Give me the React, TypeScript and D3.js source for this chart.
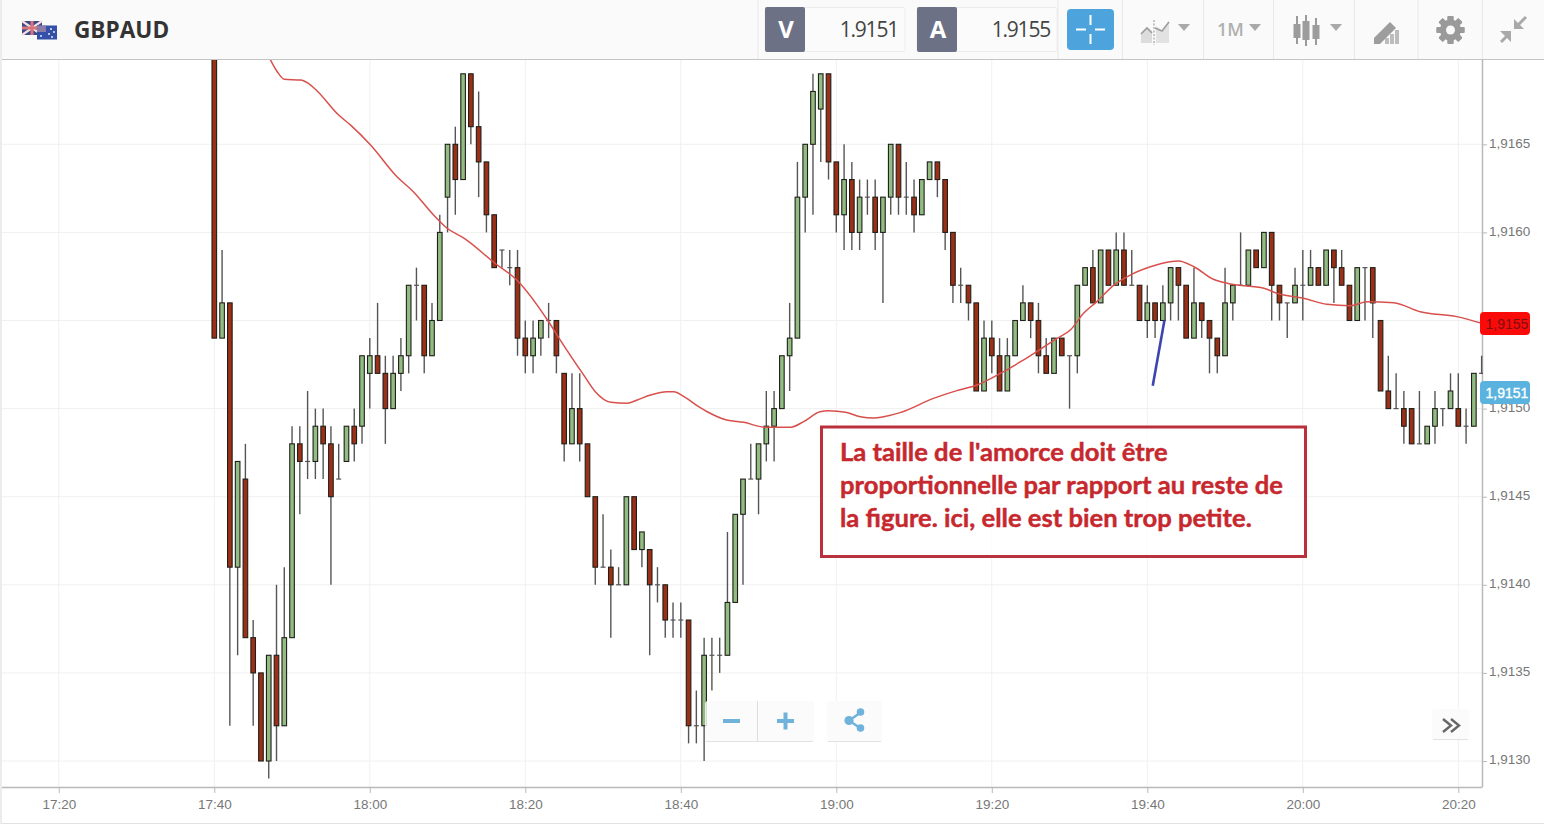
import { type FC, useEffect, useRef } from 'react';
import * as d3 from 'd3';

// prices are in 1/10000 above 1.91, so 65 means 1.9165
const opens = [
  78, 54, 56, 41, 46, 37, 35, 30, 36, 32, 37, 48, 47, 47, 49, 48, 46, 47, 49, 49,
  52, 53, 52, 50, 52, 53, 57, 57, 53, 55, 62, 65, 63, 69, 66, 64, 61, 59, 58, 58,
  54, 53, 54, 55, 55, 52, 48, 50, 48, 45, 41, 41, 40, 40, 45, 42, 42, 40, 40, 38,
  38, 38, 32, 32, 36, 36, 36, 39, 44, 46, 46, 48, 49, 50, 53, 54, 62, 65, 67, 69,
  64, 61, 63, 60, 62, 62, 60, 62, 65, 62, 62, 61, 63, 64, 63, 60, 57, 57, 56, 51,
  54, 53, 51, 53, 55, 56, 55, 53, 52, 54, 53, 53, 57, 58, 56, 59, 57, 59, 57, 57,
  55, 56, 55, 56, 58, 57, 54, 56, 55, 54, 53, 56, 57, 57, 59, 58, 60, 57, 56, 56,
  57, 57, 58, 57, 59, 58, 57, 55, 58, 58, 55, 51, 50, 50, 50, 48, 48, 49, 50, 50,
  50, 49, 49, 52,
];
const closes = [
  54, 56, 41, 47, 37, 35, 30, 36, 32, 37, 48, 47, 47, 49, 48, 45, 46, 49, 48, 53,
  53, 52, 50, 52, 53, 57, 57, 53, 55, 60, 65, 63, 69, 66, 64, 61, 58, 59, 58, 54,
  53, 54, 55, 55, 53, 48, 50, 48, 45, 41, 41, 40, 40, 45, 42, 43, 40, 40, 38, 38,
  38, 32, 32, 36, 36, 36, 39, 44, 46, 46, 48, 49, 50, 53, 54, 62, 65, 68, 69, 64,
  61, 63, 60, 62, 62, 60, 62, 65, 62, 62, 61, 63, 64, 63, 60, 57, 57, 56, 51, 54,
  53, 51, 53, 55, 56, 55, 53, 52, 54, 53, 53, 57, 58, 56, 59, 57, 59, 57, 57, 55,
  56, 55, 56, 58, 57, 54, 56, 55, 54, 53, 56, 57, 57, 59, 58, 60, 57, 56, 56, 57,
  57, 58, 57, 59, 58, 57, 55, 58, 58, 56, 51, 50, 50, 49, 48, 48, 49, 50, 50, 51,
  49, 49, 52, 52,
];
const highs = [
  78, 59, 56, 47, 48, 38, 35, 36, 40, 41, 49, 49, 51, 50, 50, 49, 48, 49, 50, 53,
  54, 56, 53, 53, 54, 57, 58, 57, 56, 61, 65, 66, 69, 69, 68, 64, 61, 59, 59, 59,
  55, 55, 55, 56, 55, 52, 52, 52, 48, 45, 44, 42, 41, 45, 45, 43, 42, 41, 40, 39,
  39, 38, 34, 37, 37, 37, 43, 44, 46, 48, 48, 51, 51, 53, 56, 64, 65, 69, 69, 69,
  64, 65, 64, 63, 63, 63, 62, 65, 65, 64, 63, 63, 64, 64, 63, 60, 58, 57, 56, 55,
  55, 54, 54, 55, 57, 56, 56, 54, 54, 54, 53, 57, 58, 59, 59, 59, 60, 60, 59, 57,
  57, 56, 57, 58, 58, 57, 58, 56, 55, 54, 58, 57, 60, 59, 59, 60, 60, 57, 56, 58,
  59, 59, 58, 59, 59, 59, 57, 58, 58, 58, 55, 53, 52, 51, 50, 51, 49, 51, 50, 52,
  52, 50, 52, 53,
];
const lows = [
  54, 54, 32, 36, 37, 32, 30, 29, 30, 32, 37, 44, 46, 46, 46, 40, 46, 47, 47, 48,
  50, 52, 48, 50, 51, 52, 55, 52, 53, 55, 60, 61, 63, 65, 62, 60, 58, 58, 57, 53,
  52, 52, 53, 54, 52, 47, 48, 47, 45, 40, 41, 37, 40, 40, 42, 41, 36, 39, 37, 37,
  37, 31, 31, 30, 34, 35, 36, 39, 40, 46, 44, 47, 47, 50, 51, 54, 60, 61, 64, 63,
  60, 59, 59, 59, 61, 59, 56, 61, 61, 61, 60, 61, 63, 62, 59, 56, 56, 55, 51, 51,
  52, 51, 51, 53, 55, 54, 52, 52, 52, 53, 50, 52, 57, 56, 56, 57, 57, 57, 57, 55,
  54, 54, 55, 55, 55, 54, 54, 54, 52, 52, 53, 55, 57, 57, 58, 58, 55, 55, 54, 56,
  55, 57, 57, 57, 56, 57, 55, 55, 55, 54, 51, 50, 50, 48, 48, 48, 48, 48, 49, 50,
  49, 48, 49, 52,
];

// moving average: minutes after 17:40 and level
const maMinutes = [
  6.6, 8.1, 9, 11.1, 12.1, 13.2, 16, 17.5, 20.1, 23.5, 25.6, 28.2, 29.9, 32.1, 36.1, 38.9, 43, 44.5, 47.5, 49,
  51, 53.1, 54.4, 56.1, 58.2, 59.1, 60.4, 62.5, 63.4, 65.9, 68.1, 70.9, 74.1, 75.8, 77.9, 79, 81.2, 83.1, 84.8, 86.1,
  88.2, 92.5, 95.5, 98.1, 101.1, 103.7, 108.4, 110.1, 111.8, 113.5, 115.7, 117.8, 120.4, 122.9, 124, 126, 128.5, 130.7, 135, 136.7,
  140.1, 143.1, 146.1, 148.3, 151.7, 155.1, 159.8, 163,
];
const maValues = [
  70.35, 69.12, 68.69, 68.65, 68.46, 68.04, 66.66, 66.1, 64.96, 63.16, 62.31, 60.99, 60.25, 59.67, 58.25, 57.3, 54.93, 53.89, 51.91, 50.96,
  50.36, 50.3, 50.49, 50.77, 50.96, 50.96, 50.68, 50.05, 49.82, 49.35, 49.22, 48.94, 48.94, 49.26, 49.82, 49.88, 49.79, 49.54, 49.47, 49.54,
  49.77, 50.58, 51.02, 51.34, 52, 52.66, 53.99, 54.46, 55.41, 56.07, 57.01, 57.58, 58.05, 58.34, 58.38, 58.05, 57.34, 57.07, 56.83, 56.54,
  56.26, 55.92, 55.84, 56.07, 56.01, 55.5, 55.22, 54.84,
];

// the blue hand drawn stroke
const strokeMinutes = [120.7, 122.2];
const strokeValues = [51.3, 55];

const priceTicks = [30, 35, 40, 45, 50, 55, 60, 65];
const timeTicks = [-20, 0, 20, 40, 60, 80, 100, 120, 140, 160];
const noteLines = [
  "La taille de l'amorce doit être",
  'proportionnelle par rapport au reste de',
  'la figure. ici, elle est bien trop petite.',
];
const symbol = 'GBPAUD';
const bid = '1.9151';
const ask = '1.9155';
const bidLabel = '1,9151';
const askLabel = '1,9155';

const width = 1544;
const height = 824;
const axisX = 1482;
const axisY = 787;
const gridColor = '#f0f0f0';
const axisColor = '#b9b9b9';
const labelColor = '#777777';
const upColor = '#92bc82';
const downColor = '#9c3017';
const wickColor = '#555555';
const iconColor = '#a9a9a9';
const sansFont = '"Open Sans", sans-serif';
const axisFont = '"Liberation Sans", Arial, sans-serif';

const base = new Date(2018, 0, 8, 17, 40).getTime();
const toDate = (m: number) => new Date(base + m * 60000);
const priceText = (d: number) => (1.91 + d / 10000).toFixed(4).replace('.', ',');

const App: FC = () => {
  const ref = useRef<SVGSVGElement>(null);

  useEffect(() => {
    const { current: dom } = ref;
    if (!dom) {
      return;
    }
    const svg = d3.select(dom);
    svg.selectAll('*').remove();

    const x = d3.scaleTime().domain([toDate(0), toDate(160)]).range([214.3, 1458.3]);
    const y = d3.scaleLinear().domain([30, 65]).range([761, 144.3]);
    const cx = (i: number) => x(toDate(i));

    svg.append('rect').attr('width', width).attr('height', height).attr('fill', '#fff');
    svg
      .append('defs')
      .append('clipPath')
      .attr('id', 'plot')
      .append('rect')
      .attr('x', 0)
      .attr('y', 60)
      .attr('width', axisX + 1)
      .attr('height', axisY - 60);

    // grid
    const grid = svg.append('g').attr('stroke', gridColor).attr('stroke-width', 1);
    grid
      .selectAll('line.h')
      .data(priceTicks)
      .join('line')
      .attr('class', 'h')
      .attr('x1', 0)
      .attr('x2', axisX)
      .attr('y1', (d) => y(d))
      .attr('y2', (d) => y(d));
    grid
      .selectAll('line.v')
      .data(timeTicks)
      .join('line')
      .attr('class', 'v')
      .attr('x1', (d) => cx(d))
      .attr('x2', (d) => cx(d))
      .attr('y1', 60)
      .attr('y2', axisY);

    // axes
    const bottom = svg
      .append('g')
      .attr('transform', `translate(0,${axisY})`)
      .call(
        d3
          .axisBottom(x)
          .tickValues(timeTicks.map(toDate))
          .tickFormat((d) => d3.timeFormat('%H:%M')(d as Date))
          .tickSize(6)
          .tickPadding(6),
      );
    // the 1,9155 level is covered by the ask label, so it gets only its tick mark
    const right = svg
      .append('g')
      .attr('transform', `translate(${axisX},0)`)
      .call(
        d3
          .axisRight(y)
          .tickValues(priceTicks)
          .tickFormat((d) => ((d as number) === 55 ? '' : priceText(d as number)))
          .tickSize(5)
          .tickPadding(2),
      );
    bottom.select('.domain').attr('d', `M0,0.5H${axisX + 0.5}`);
    right.select('.domain').attr('d', `M0.5,60V${axisY}`);
    [bottom, right].forEach((axis) => {
      axis.selectAll('.domain').attr('stroke', axisColor).attr('stroke-width', 1.5);
      axis.selectAll('line').attr('stroke', axisColor);
      axis
        .selectAll('text')
        .attr('fill', labelColor)
        .attr('font-size', 13.5)
        .attr('font-family', axisFont);
    });
    right.selectAll('text').attr('dy', '0.22em');

    svg.append('line').attr('x1', 0).attr('x2', width).attr('y1', 823.5).attr('y2', 823.5).attr('stroke', '#e2e2e2');

    const plot = svg.append('g').attr('clip-path', 'url(#plot)');

    // candles
    const index = d3.range(opens.length);
    plot
      .selectAll('line.wick')
      .data(index)
      .join('line')
      .attr('class', 'wick')
      .attr('x1', (i) => cx(i))
      .attr('x2', (i) => cx(i))
      .attr('y1', (i) => y(highs[i]))
      .attr('y2', (i) => y(lows[i]))
      .attr('stroke', wickColor)
      .attr('stroke-width', 1.4);
    plot
      .selectAll('line.doji')
      .data(index.filter((i) => opens[i] === closes[i]))
      .join('line')
      .attr('class', 'doji')
      .attr('x1', (i) => cx(i) - 2.5)
      .attr('x2', (i) => cx(i) + 2.5)
      .attr('y1', (i) => y(opens[i]))
      .attr('y2', (i) => y(opens[i]))
      .attr('stroke', wickColor)
      .attr('stroke-width', 1.2);
    plot
      .selectAll('rect.body')
      .data(index.filter((i) => opens[i] !== closes[i]))
      .join('rect')
      .attr('class', 'body')
      .attr('x', (i) => cx(i) - 2.3)
      .attr('width', 4.6)
      .attr('y', (i) => y(Math.max(opens[i], closes[i])))
      .attr('height', (i) => Math.abs(y(opens[i]) - y(closes[i])))
      .attr('fill', (i) => (closes[i] > opens[i] ? upColor : downColor))
      .attr('stroke', '#1f1f1a')
      .attr('stroke-width', 1.1);

    // moving average
    const maLine = d3
      .line<number>()
      .x((_, i) => x(toDate(maMinutes[i])))
      .y((d) => y(d))
      .curve(d3.curveMonotoneX);
    plot
      .append('path')
      .attr('d', maLine(maValues))
      .attr('fill', 'none')
      .attr('stroke', '#d8504c')
      .attr('stroke-width', 1.5);

    // blue stroke
    const strokeLine = d3
      .line<number>()
      .x((_, i) => x(toDate(strokeMinutes[i])))
      .y((d) => y(d));
    plot
      .append('path')
      .attr('d', strokeLine(strokeValues))
      .attr('fill', 'none')
      .attr('stroke', '#3c46ae')
      .attr('stroke-width', 2.6);

    // price labels
    const priceLabel = (top: number, fill: string, color: string, text: string, thick: number) => {
      svg.append('rect').attr('x', 1480).attr('y', top).attr('width', 50).attr('height', 23).attr('rx', 4).attr('fill', fill);
      svg
        .append('text')
        .attr('x', 1507)
        .attr('y', top + 16.5)
        .attr('text-anchor', 'middle')
        .attr('fill', color)
        .attr('stroke', color)
        .attr('stroke-width', thick)
        .attr('font-size', 14)
        .attr('font-family', axisFont)
        .text(text);
    };
    priceLabel(312, '#fb0a0a', '#7d1010', askLabel, 0);
    priceLabel(381, '#5ab3df', '#ffffff', bidLabel, 0.35);

    // note box
    svg
      .append('rect')
      .attr('x', 821.5)
      .attr('y', 427)
      .attr('width', 484)
      .attr('height', 129.5)
      .attr('fill', 'rgba(255,255,255,0.75)')
      .attr('stroke', '#b9313a')
      .attr('stroke-width', 3);
    svg
      .selectAll('text.note')
      .data(noteLines)
      .join('text')
      .attr('class', 'note')
      .attr('x', 840)
      .attr('y', (_, i) => 460.5 + i * 33)
      .attr('fill', '#c6282e')
      .attr('stroke', '#c6282e')
      .attr('stroke-width', 0.45)
      .attr('font-size', 25.6)
      .attr('font-weight', 700)
      .attr('font-family', 'Lato, sans-serif')
      .text((d) => d);

    // zoom and share buttons
    const button = (bx: number, by: number, bw: number, bh: number) => {
      svg
        .append('rect')
        .attr('x', bx)
        .attr('y', by)
        .attr('width', bw)
        .attr('height', bh)
        .attr('rx', 3)
        .attr('fill', 'rgba(250,250,250,0.85)');
      svg
        .append('line')
        .attr('x1', bx + 1)
        .attr('x2', bx + bw - 1)
        .attr('y1', by + bh + 0.5)
        .attr('y2', by + bh + 0.5)
        .attr('stroke', '#e2e2e2');
    };
    button(705, 701, 109, 40);
    button(827, 701, 55, 40);
    button(1432, 709, 37, 30);
    svg.append('line').attr('x1', 757.5).attr('x2', 757.5).attr('y1', 701).attr('y2', 741).attr('stroke', '#dddddd');
    const blue = '#6fb3dc';
    svg.append('rect').attr('x', 723).attr('y', 719).attr('width', 17).attr('height', 4).attr('fill', blue);
    svg.append('rect').attr('x', 777).attr('y', 719).attr('width', 17).attr('height', 4).attr('fill', blue);
    svg.append('rect').attr('x', 783.5).attr('y', 712.5).attr('width', 4).attr('height', 17).attr('fill', blue);
    svg.append('path').attr('d', 'M860,713L849,720.5L860,728').attr('fill', 'none').attr('stroke', blue).attr('stroke-width', 2.4);
    [[860.5, 712, 3.8], [849, 720.5, 4.6], [860.5, 728, 3.8]].forEach(([dx, dy, r]) => {
      svg.append('circle').attr('cx', dx).attr('cy', dy).attr('r', r).attr('fill', blue);
    });
    svg
      .append('path')
      .attr('d', 'M1443,719L1451,725.5L1443,732M1451,719L1459,725.5L1451,732')
      .attr('fill', 'none')
      .attr('stroke', '#666')
      .attr('stroke-width', 2.4);

    // top bar
    const bar = svg.append('g');
    bar.append('rect').attr('width', width).attr('height', 59).attr('fill', '#fafafa');
    bar.append('line').attr('x1', 0).attr('x2', width).attr('y1', 59.5).attr('y2', 59.5).attr('stroke', '#c4c4c4').attr('stroke-width', 1.2);
    bar.append('rect').attr('x', 0).attr('y', 0).attr('width', 2).attr('height', height).attr('fill', '#ececec');
    [758, 1058, 1122.5, 1203.5, 1273.5, 1354.5, 1418, 1482.5].forEach((sx) => {
      bar.append('line').attr('x1', sx).attr('x2', sx).attr('y1', 0).attr('y2', 59).attr('stroke', '#e8e8e8');
    });

    // flags
    bar.append('rect').attr('x', 22).attr('y', 21).attr('width', 20).attr('height', 14).attr('fill', '#3c4a86');
    bar
      .append('path')
      .attr('d', 'M22,21L42,35M42,21L22,35')
      .attr('stroke', '#f1dfe0')
      .attr('stroke-width', 2.2);
    bar
      .append('path')
      .attr('d', 'M32,21V35M22,28H42')
      .attr('stroke', '#d9747c')
      .attr('stroke-width', 3);
    bar.append('rect').attr('x', 37).attr('y', 25.5).attr('width', 20).attr('height', 14).attr('fill', '#3450a8');
    bar.append('rect').attr('x', 37).attr('y', 25.5).attr('width', 9).attr('height', 6.5).attr('fill', '#8a7ca8');
    [[41, 36], [51, 29], [54, 32], [49, 34], [52, 37]].forEach(([dx, dy]) => {
      bar.append('circle').attr('cx', dx).attr('cy', dy).attr('r', 1).attr('fill', '#e6ebf7');
    });

    bar
      .append('text')
      .attr('x', 74)
      .attr('y', 38)
      .attr('fill', '#333333')
      .attr('font-size', 22.6)
      .attr('font-weight', 700)
      .attr('font-family', sansFont)
      .text(symbol);

    // bid and ask boxes
    const quote = (qx: number, letter: string, value: string) => {
      bar
        .append('rect')
        .attr('x', qx)
        .attr('y', 7.5)
        .attr('width', 140)
        .attr('height', 44)
        .attr('rx', 2)
        .attr('fill', '#fbfbfb')
        .attr('stroke', '#ececec');
      bar.append('rect').attr('x', qx).attr('y', 7).attr('width', 40).attr('height', 45).attr('rx', 2).attr('fill', '#6c7186');
      bar
        .append('text')
        .attr('x', qx + 21)
        .attr('y', 38)
        .attr('text-anchor', 'middle')
        .attr('fill', '#fff')
        .attr('font-size', 24)
        .attr('font-weight', 700)
        .attr('font-family', sansFont)
        .text(letter);
      bar
        .append('text')
        .attr('x', qx + 133)
        .attr('y', 36.5)
        .attr('text-anchor', 'end')
        .attr('fill', '#444')
        .attr('font-size', 21)
        .attr('letter-spacing', -1.2)
        .attr('font-family', sansFont)
        .text(value);
    };
    quote(765, 'V', bid);
    quote(917, 'A', ask);

    // crosshair button
    bar.append('rect').attr('x', 1067).attr('y', 9).attr('width', 47).attr('height', 41).attr('rx', 4).attr('fill', '#4da3dc');
    bar
      .append('path')
      .attr('d', 'M1090.5,15V25M1090.5,34V44M1076,29.5H1086M1095,29.5H1105')
      .attr('stroke', '#fff')
      .attr('stroke-width', 2);

    // chart type icon
    bar.append('path').attr('d', 'M1141,43V33L1147,27L1152,31V43Z').attr('fill', '#dcdcdc');
    bar.append('path').attr('d', 'M1156,43V26L1162,31L1169,21V43Z').attr('fill', '#e2e2e2');
    bar.append('path').attr('d', 'M1141,34L1147,28L1152,33M1155,28L1162,31L1169,22').attr('fill', 'none').attr('stroke', '#9e9e9e').attr('stroke-width', 1.6);
    bar.append('line').attr('x1', 1154).attr('x2', 1154).attr('y1', 20).attr('y2', 45).attr('stroke', '#8f8f8f').attr('stroke-dasharray', '2 1.5');

    // dropdown carets
    [1184, 1255, 1336].forEach((c) => {
      bar.append('path').attr('d', `M${c - 6},24H${c + 6}L${c},31Z`).attr('fill', iconColor);
    });

    bar
      .append('text')
      .attr('x', 1217)
      .attr('y', 36)
      .attr('fill', '#b0b0b0')
      .attr('font-size', 18)
      .attr('font-weight', 600)
      .attr('font-family', sansFont)
      .text('1M');

    // candle icon
    [[1297, 16, 44, 24, 38], [1306, 15, 46, 21, 40], [1316, 18, 45, 25, 39]].forEach(([c, t, b, bt, bb]) => {
      bar.append('line').attr('x1', c).attr('x2', c).attr('y1', t).attr('y2', b).attr('stroke', '#8f8f8f').attr('stroke-width', 1.8);
      bar.append('rect').attr('x', c - 3.5).attr('y', bt).attr('width', 7).attr('height', bb - bt).attr('fill', '#9c9c9c');
    });

    // drawing icon
    [[1385, 38, 6], [1390, 34, 10], [1395, 30, 14]].forEach(([bx, by, bh]) => {
      bar.append('rect').attr('x', bx).attr('y', by).attr('width', 4).attr('height', bh).attr('fill', '#bcbcbc');
    });
    bar.append('path').attr('d', 'M1374,38L1390,22L1396,28L1380,44L1374,44Z').attr('fill', '#9d9d9d');

    // gear
    const gear = bar.append('g').attr('transform', 'translate(1450.5,30)');
    d3.range(8).forEach((i) => {
      gear
        .append('rect')
        .attr('x', -3)
        .attr('y', -14)
        .attr('width', 6)
        .attr('height', 28)
        .attr('rx', 1)
        .attr('fill', '#9a9a9a')
        .attr('transform', `rotate(${i * 45})`);
    });
    gear.append('circle').attr('r', 10.5).attr('fill', '#9a9a9a');
    gear.append('circle').attr('r', 4.5).attr('fill', '#fafafa');

    // collapse arrows
    bar
      .append('path')
      .attr('d', 'M1526,17L1517,26M1510,33L1501,42')
      .attr('stroke', iconColor)
      .attr('stroke-width', 3);
    bar.append('path').attr('d', 'M1514,19V29H1524Z').attr('fill', iconColor);
    bar.append('path').attr('d', 'M1500,31H1511V42Z').attr('fill', iconColor);
  }, []);

  return (
    <svg
      ref={ref}
      width={width}
      height={height}
      style={{ position: 'absolute', left: 0, top: 0, display: 'block' }}
    />
  );
};

export default App;
